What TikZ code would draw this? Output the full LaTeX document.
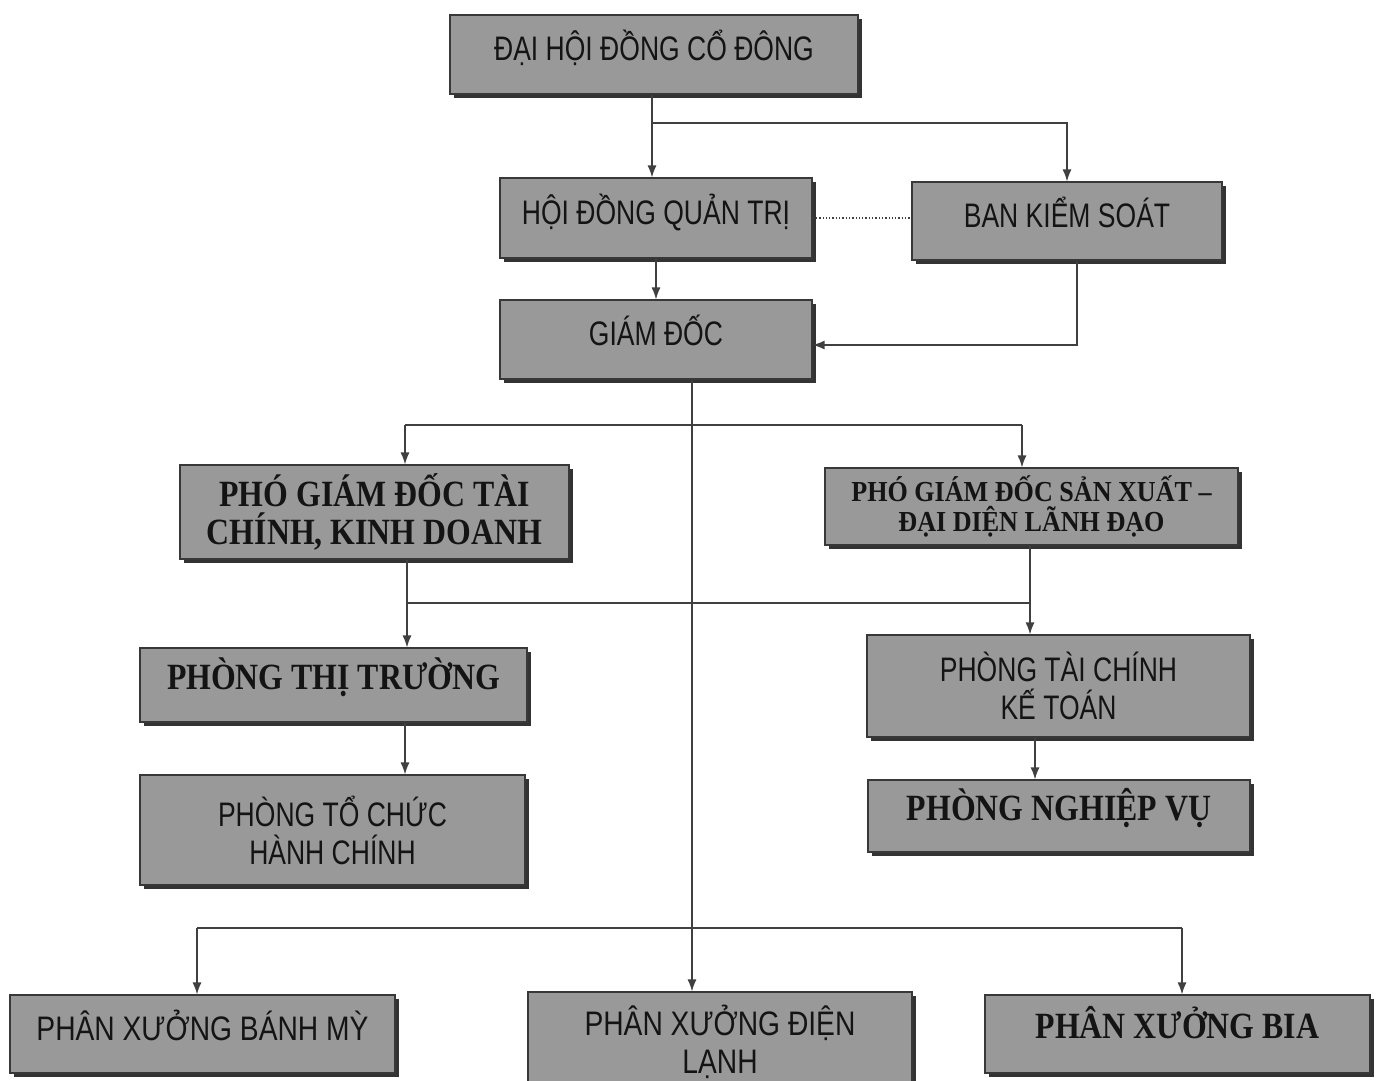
\documentclass[tikz,border=0pt]{standalone}
\usepackage{fontspec}
\setmainfont{Liberation Serif}
\newfontfamily\nsans[FakeStretch=0.78]{Liberation Sans}
\newfontfamily\nsansw[FakeStretch=0.83]{Liberation Sans}
\newfontfamily\nserif[FakeStretch=0.86]{Liberation Serif}
\newfontfamily\nserifs[FakeStretch=0.9]{Liberation Serif}
\usetikzlibrary{arrows.meta,shadows}
\begin{document}
\begin{tikzpicture}[x=1pt,y=-1pt,
  box/.style={draw=black!78, line width=1.2pt, fill=black!40, text=black!92,
    align=center, inner sep=0pt,
    drop shadow={shadow xshift=4pt, shadow yshift=-4pt, fill=black!80, opacity=1}},
  sanstxt/.style={font=\nsans\fontsize{34}{38}\selectfont},
  sanswide/.style={font=\nsansw\fontsize{34}{38}\selectfont},
  seriftxt/.style={font=\nserif\bfseries\fontsize{37}{38}\selectfont},
  smallserif/.style={font=\nserifs\bfseries\fontsize{29}{30}\selectfont},
  liftsans/.style={text height=30pt, text depth=18pt},
  liftserif/.style={text height=30pt, text depth=22pt},
  conn/.style={draw=black!75, line width=1.3pt},
  arr/.style={conn, -{Latex[length=12pt,width=9pt]}}]
\useasboundingbox[fill=white] (0,0) rectangle (1382,1080);

\node[box, sanstxt, liftsans, minimum width=408pt, minimum height=79pt] (dh) at (654,54.5) {ĐẠI HỘI ĐỒNG CỔ ĐÔNG};
\node[box, sanstxt, liftsans, minimum width=312pt, minimum height=80pt] (hdqt) at (656,218) {HỘI ĐỒNG QUẢN TRỊ};
\node[box, sanstxt, liftsans, minimum width=310pt, minimum height=78pt] (bks) at (1067,221) {BAN KIỂM SOÁT};
\node[box, sanstxt, liftsans, minimum width=312pt, minimum height=79pt] (gd) at (656,339.5) {GIÁM ĐỐC};
\node[box, seriftxt, minimum width=389pt, minimum height=94pt] (pgdtc) at (374.5,512) {PHÓ GIÁM ĐỐC TÀI\\CHÍNH, KINH DOANH};
\node[box, smallserif, minimum width=413pt, minimum height=77pt] (pgdsx) at (1031.5,506.5) {PHÓ GIÁM ĐỐC SẢN XUẤT –\\ĐẠI DIỆN LÃNH ĐẠO};
\node[box, seriftxt, liftserif, minimum width=387pt, minimum height=74pt] (ptt) at (333.5,685) {PHÒNG THỊ TRƯỜNG};
\node[box, sanstxt, minimum width=383pt, minimum height=102pt] (ptckt) at (1058.5,686) {PHÒNG TÀI CHÍNH\\KẾ TOÁN};
\node[box, sanstxt, minimum width=385pt, minimum height=110pt] (ptchc) at (332.5,830) {PHÒNG TỔ CHỨC\\HÀNH CHÍNH};
\node[box, seriftxt, liftserif, minimum width=382pt, minimum height=72pt] (pnv) at (1059,816) {PHÒNG NGHIỆP VỤ};
\node[box, sanswide, liftsans, minimum width=385pt, minimum height=78pt] (pxbm) at (202.5,1034) {PHÂN XƯỞNG BÁNH MỲ};
\node[box, sanswide, minimum width=384pt, minimum height=100pt] (pxdl) at (720,1042) {PHÂN XƯỞNG ĐIỆN\\LẠNH};
\node[box, seriftxt, liftserif, minimum width=385pt, minimum height=78pt] (pxbia) at (1177.5,1034) {PHÂN XƯỞNG BIA};

% coordinates of the connector routes
\coordinate (j1) at (652,123);
\coordinate (b1) at (1077,345);
\coordinate (g1) at (692,0);
\coordinate (h1) at (405,425);
\coordinate (h2) at (1022,425);
\coordinate (v1) at (407,603);
\coordinate (v2) at (1030,603);
\coordinate (t1) at (405,0);
\coordinate (k1) at (1035,0);
\coordinate (w1) at (197,928);
\coordinate (w2) at (1182,928);

\draw[arr] (dh.south -| j1) -- (j1 |- hdqt.north);
\draw[arr] (j1) -| (bks.north);
\draw[arr] (hdqt.south) -- (gd.north);
\draw[conn, dotted, line width=1.5pt] (hdqt.east) -- (hdqt.east -| bks.west);
\draw[arr] (bks.south -| b1) -- (b1) -- (b1 -| gd.east);
\draw[arr] (gd.south -| g1) -- (g1 |- pxdl.north);
\draw[conn] (h1) -- (h2);
\draw[arr] (h1) -- (h1 |- pgdtc.north);
\draw[arr] (h2) -- (h2 |- pgdsx.north);
\draw[arr] (pgdtc.south -| v1) -- (v1 |- ptt.north);
\draw[arr] (pgdsx.south -| v2) -- (v2 |- ptckt.north);
\draw[conn] (v1) -- (v2);
\draw[arr] (ptt.south -| t1) -- (t1 |- ptchc.north);
\draw[arr] (ptckt.south -| k1) -- (k1 |- pnv.north);
\draw[conn] (w1) -- (w2);
\draw[arr] (w1) -- (w1 |- pxbm.north);
\draw[arr] (w2) -- (w2 |- pxbia.north);
\end{tikzpicture}
\end{document}
